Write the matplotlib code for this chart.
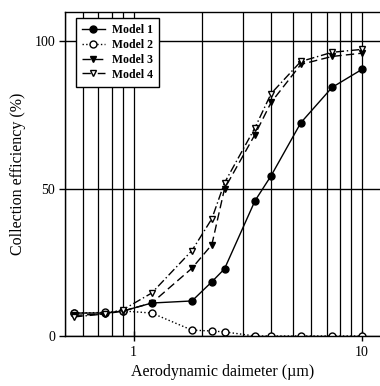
import matplotlib
matplotlib.use("Agg")
import matplotlib.pyplot as plt
from matplotlib.ticker import LogLocator, NullFormatter, FixedLocator

plt.rcParams['font.family'] = ['Liberation Serif', 'DejaVu Serif']

# aerodynamic diameter (um) and collection efficiency (%)
diam = [0.55, 0.75, 0.9, 1.2, 1.8, 2.2, 2.5, 3.4, 4.0, 5.4, 7.4, 10]
model1 = [7.8, 7.8, 8.5, 11.2, 11.9, 18.4, 22.8, 45.9, 54.4, 72.4, 84.4, 90.5]
model2 = [7.8, 8.0, 8.5, 7.8, 2.0, 1.7, 1.4, 0, 0, 0, 0, 0]
model3 = [7.0, 7.5, 8.5, 11.2, 23, 31, 50, 68.4, 79.3, 92.2, 94.9, 96]
model4 = [6.5, 7.5, 9.0, 14.6, 29, 39.8, 52, 70.7, 82.3, 93.2, 96.3, 97.3]

fig = plt.figure(figsize=(3.8, 3.86), dpi=100)
ax = fig.add_axes([0.171, 0.1295, 0.829, 0.8395])

ax.plot(diam, model1, '-', color='black', lw=1.0, marker='o', ms=5,
        mfc='black', mec='black', label='Model 1')
ax.plot(diam, model2, ':', color='black', lw=1.0, marker='o', ms=5,
        mfc='white', mec='black', label='Model 2')
ax.plot(diam, model3, color='black', lw=1.0, ls=(0, (6, 3)), marker='v', ms=5,
        mfc='black', mec='black', label='Model 3')
ax.plot(diam, model4, color='black', lw=1.0, ls=(0, (6, 2, 1, 2)), marker='v', ms=5,
        mfc='white', mec='black', label='Model 4')

ax.set_xscale('log')
ax.set_xlim(0.5, 12)
ax.set_ylim(0, 110)
ax.xaxis.set_major_locator(FixedLocator([1, 10]))
ax.xaxis.set_major_formatter(matplotlib.ticker.FixedFormatter(['1', '10']))
ax.xaxis.set_minor_locator(LogLocator(base=10, subs=range(2, 10)))
ax.xaxis.set_minor_formatter(NullFormatter())
ax.set_yticks([0, 50, 100])

ax.grid(True, which='both', axis='x', color='black', lw=0.9)
ax.grid(True, which='major', axis='y', color='black', lw=1.0)
ax.set_axisbelow(True)

ax.tick_params(axis='x', which='major', direction='inout', length=7, width=1,
               labelsize=10, pad=4)
ax.tick_params(axis='x', which='minor', length=0)
ax.tick_params(axis='y', direction='out', length=4, width=1, labelsize=10, pad=3)

for s in ['left', 'bottom', 'top']:
    ax.spines[s].set_linewidth(1.0)
ax.spines['right'].set_visible(False)

ax.set_xlabel('Aerodynamic daimeter (\u00b5m)', fontsize=11.5, labelpad=3)
ax.set_ylabel('Collection efficiency (%)', fontsize=11.5, labelpad=6)

leg = ax.legend(loc='upper left', bbox_to_anchor=(0.015, 1.0), frameon=True,
                fancybox=False, edgecolor='black', framealpha=1,
                prop={'weight': 'bold', 'size': 8.5}, handlelength=2.0,
                handletextpad=0.6, labelspacing=0.25, borderpad=0.5)
leg.get_frame().set_linewidth(1.0)

fig.savefig('out.png', dpi=100)
